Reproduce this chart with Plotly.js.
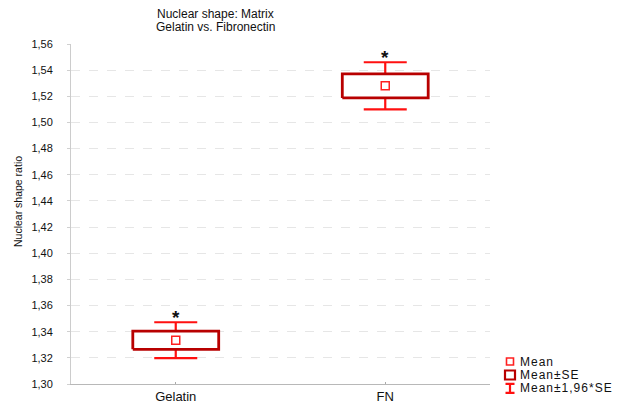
<!DOCTYPE html>
<html>
<head>
<meta charset="utf-8">
<script src="https://cdn.plot.ly/plotly-3.0.1.min.js"></script>
<style>
  html, body { margin: 0; padding: 0; background: #fff; }
  #chart { width: 621px; height: 403px; }
</style>
</head>
<body>
<div id="chart"></div>
<script>
// Nuclear shape ratio by matrix: mean, standard error and 95% interval
const categories = ['Gelatin', 'FN'];
const means = [1.3335, 1.528];
const stdErr = [0.0070, 0.0092];
const ciFactor = 1.96;
const yTickVals = [1.30, 1.32, 1.34, 1.36, 1.38, 1.40, 1.42, 1.44, 1.46, 1.48, 1.50, 1.52, 1.54, 1.56];
const legendLabels = ['Mean', 'Mean\u00b1SE', 'Mean\u00b11,96*SE'];
const titleLines = ['Nuclear shape: Matrix', 'Gelatin vs. Fibronectin'];
const yTitle = 'Nuclear shape ratio';

const FONT = 'Liberation Sans, Arial, Helvetica, sans-serif';
const BOX_RED = '#b80000';
const WHISKER_RED = '#ff1010';
const MEAN_RED = '#ff2020';
const BOX_HALF = 0.205;   // half box width, in category units

const xPos = categories.map((_, i) => i);

// whiskers: mean +/- 1.96*SE with caps
const whiskers = {
  type: 'scatter', mode: 'markers',
  x: xPos, y: means,
  marker: { size: 1, color: 'rgba(0,0,0,0)' },
  error_y: {
    type: 'data', symmetric: true,
    array: stdErr.map(s => ciFactor * s),
    color: WHISKER_RED, thickness: 2.2, width: 21.5
  },
  showlegend: false, hoverinfo: 'skip'
};

// boxes: mean +/- SE
const bx = [], by = [];
xPos.forEach((x, i) => {
  const lo = means[i] - stdErr[i], hi = means[i] + stdErr[i];
  bx.push(x - BOX_HALF, x + BOX_HALF, x + BOX_HALF, x - BOX_HALF, x - BOX_HALF, null);
  by.push(lo, lo, hi, hi, lo, null);
});
const boxes = {
  type: 'scatter', mode: 'lines',
  x: bx, y: by, fill: 'toself', fillcolor: '#ffffff',
  line: { color: BOX_RED, width: 2.8 },
  showlegend: false, hoverinfo: 'skip'
};

// mean markers
const meanPts = {
  type: 'scatter', mode: 'markers',
  x: xPos, y: means,
  marker: { symbol: 'square', size: 8, color: '#ffffff', line: { color: MEAN_RED, width: 1.5 } },
  showlegend: false, hoverinfo: 'skip'
};

// significance stars above the upper whisker
const stars = xPos.map((x, i) => ({
  x: x, y: means[i] + ciFactor * stdErr[i],
  xref: 'x', yref: 'y', text: '<b>*</b>', showarrow: false,
  xanchor: 'center', yanchor: 'bottom', yshift: -8,
  font: { family: FONT, size: 19, color: '#111' }
}));

// layout geometry in pixels
const plotL = 71, plotR = 490, plotT = 44, plotB = 384;
const W = 621, H = 403;
const px = v => (v - plotL) / (plotR - plotL);
const py = v => (plotB - v) / (plotB - plotT);

// legend, drawn beside the plot area
const legendRows = [361.5, 375.0, 388.3];
const symX = px(510);

const shapes = [
  { type: 'rect', xref: 'paper', yref: 'paper', xsizemode: 'pixel', ysizemode: 'pixel',
    xanchor: symX, yanchor: py(legendRows[0]), x0: -3.5, x1: 3.5, y0: -3.5, y1: 3.5,
    line: { color: MEAN_RED, width: 1.6 }, fillcolor: '#ffffff' },
  { type: 'rect', xref: 'paper', yref: 'paper', xsizemode: 'pixel', ysizemode: 'pixel',
    xanchor: symX, yanchor: py(legendRows[1]), x0: -5, x1: 5, y0: -4.5, y1: 4.5,
    line: { color: BOX_RED, width: 2.2 }, fillcolor: '#ffffff' },
  { type: 'path', xref: 'paper', yref: 'paper', xsizemode: 'pixel', ysizemode: 'pixel',
    xanchor: symX, yanchor: py(legendRows[2]),
    path: 'M-4.5,4.5H4.5M0,4.5V-4.5M-4.5,-4.5H4.5',
    line: { color: WHISKER_RED, width: 2.2 } }
];

const legendText = legendLabels.map((t, i) => ({
  x: px(518), y: py(legendRows[i]), xref: 'paper', yref: 'paper',
  text: '<span style="letter-spacing:1px">' + t + '</span>',
  showarrow: false, xanchor: 'left', yanchor: 'middle',
  font: { family: FONT, size: 12, color: '#111' }
}));

// chart title, two lines
const titleAnn = titleLines.map((t, i) => ({
  x: px(215), y: py(14 + 13 * i), xref: 'paper', yref: 'paper',
  text: t, showarrow: false, xanchor: 'center', yanchor: 'middle',
  font: { family: FONT, size: 12, color: '#111' }
}));

// vertical axis title
const yTitleAnn = {
  x: px(18), y: py(202), xref: 'paper', yref: 'paper',
  text: yTitle, textangle: -90, showarrow: false,
  xanchor: 'center', yanchor: 'middle',
  font: { family: FONT, size: 10.5, color: '#111' }
};

const layout = {
  width: W, height: H,
  margin: { l: plotL, r: W - plotR, t: plotT, b: H - plotB, pad: 0 },
  paper_bgcolor: '#ffffff', plot_bgcolor: '#ffffff',
  separators: ', ',
  showlegend: false,
  hovermode: false,
  font: { family: FONT, size: 11, color: '#111' },
  xaxis: {
    range: [-0.5, 1.5],
    tickmode: 'array', tickvals: xPos, ticktext: categories,
    ticks: 'inside', ticklen: 2, tickcolor: '#aaa',
    showgrid: false, zeroline: false,
    showline: true, linecolor: '#b8b8b8', linewidth: 1,
    tickfont: { family: FONT, size: 13, color: '#111' }
  },
  yaxis: {
    range: [1.30, 1.56],
    tickmode: 'array', tickvals: yTickVals,
    tickformat: '.2f',
    ticks: 'outside', ticklen: 3, tickcolor: '#d0d0d0',
    ticklabelstandoff: 12,
    showgrid: true, gridcolor: '#e6e6e6', griddash: 'dash', gridwidth: 1,
    zeroline: false,
    showline: true, linecolor: '#cccccc', linewidth: 1,
    tickfont: { family: FONT, size: 11, color: '#111' }
  },
  shapes: shapes,
  annotations: stars.concat(legendText, titleAnn, [yTitleAnn])
};

Plotly.newPlot('chart', [whiskers, boxes, meanPts], layout, { staticPlot: true, displayModeBar: false });
</script>
</body>
</html>
